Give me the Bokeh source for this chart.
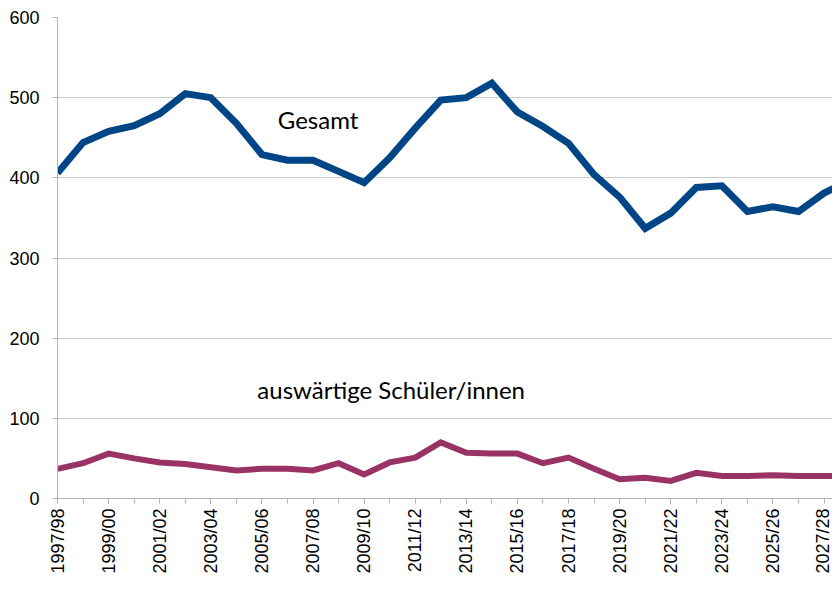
from bokeh.plotting import figure
from bokeh.models import Range1d, FixedTicker, Label, ColumnDataSource
from bokeh.embed import file_html
from bokeh.resources import INLINE
import math

years = ["1997/98", "1998/99", "1999/00", "2000/01", "2001/02", "2002/03", "2003/04",
         "2004/05", "2005/06", "2006/07", "2007/08", "2008/09", "2009/10", "2010/11",
         "2011/12", "2012/13", "2013/14", "2014/15", "2015/16", "2016/17", "2017/18",
         "2018/19", "2019/20", "2020/21", "2021/22", "2022/23", "2023/24", "2024/25",
         "2025/26", "2026/27", "2027/28", "2028/29"]

gesamt = [406, 444, 458, 465, 480, 505, 500, 468, 429, 422, 422, 408, 394, 425,
          462, 497, 500, 518, 482, 464, 443, 404, 376, 337, 356, 388, 390, 358,
          364, 358, 381, 397]

auswaertige = [37, 44, 56, 50, 45, 43, 39, 35, 37, 37, 35, 44, 30, 45,
               51, 70, 57, 56, 56, 44, 51, 37, 24, 26, 22, 32, 28, 28,
               29, 28, 28, 28]

idx = list(range(len(years)))
src = ColumnDataSource(dict(x=idx, g=gesamt, a=auswaertige))

p = figure(width=832, height=576, output_backend="svg", toolbar_location=None,
           x_range=Range1d(0, 30.33), y_range=Range1d(0, 600),
           min_border_top=17, min_border_right=0, min_border_left=57, min_border_bottom=0)
p.outline_line_color = None
p.background_fill_color = "white"

p.line("x", "g", source=src, line_color="#004586", line_width=7, line_join="miter")
p.line("x", "a", source=src, line_color="#993366", line_width=6, line_join="miter")

# axes
p.yaxis.ticker = FixedTicker(ticks=[0, 100, 200, 300, 400, 500, 600])
p.yaxis.axis_line_color = "#b3b3b3"
p.yaxis.major_tick_line_color = "#b3b3b3"
p.yaxis.major_tick_out = 5
p.yaxis.major_tick_in = 0
p.yaxis.minor_tick_line_color = None
p.yaxis.major_label_text_font = "Liberation Sans"
p.yaxis.major_label_text_font_size = "18px"
p.yaxis.major_label_text_color = "black"
p.yaxis.major_label_standoff = 13

p.xaxis.ticker = FixedTicker(ticks=idx[::2], minor_ticks=idx)
p.xaxis.major_label_overrides = {i: years[i] for i in idx}
p.xaxis.major_label_orientation = math.pi / 2
p.xaxis.axis_line_color = "#b3b3b3"
p.xaxis.major_tick_line_color = "#b3b3b3"
p.xaxis.minor_tick_line_color = "#b3b3b3"
p.xaxis.major_tick_out = 5
p.xaxis.major_tick_in = 0
p.xaxis.minor_tick_out = 5
p.xaxis.minor_tick_in = 0
p.xaxis.major_label_text_font = "Liberation Sans"
p.xaxis.major_label_text_font_size = "18px"
p.xaxis.major_label_text_color = "black"
p.xaxis.major_label_standoff = 5

p.xgrid.grid_line_color = None
p.ygrid.grid_line_color = "#c8c8c8"
p.ygrid.grid_line_width = 1

p.add_layout(Label(x=8.62, y=455, text="Gesamt", text_font="Lato",
                   text_font_size="24px", text_color="black"))
p.add_layout(Label(x=7.82, y=118, text="auswärtige Schüler/innen", text_font="Lato",
                   text_font_size="24px", text_color="black"))

open("out.html", "w").write(file_html(p, INLINE))
